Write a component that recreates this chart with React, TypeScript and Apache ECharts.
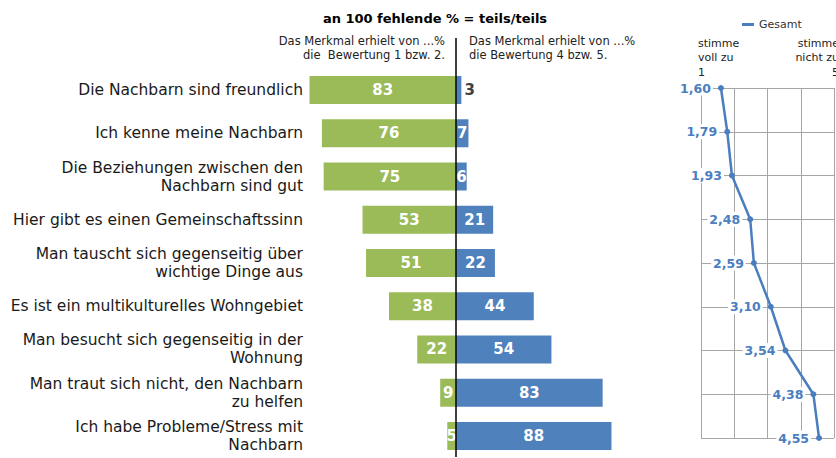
import React, { useEffect, useRef } from "react";
import * as echarts from "echarts";

const categories = [
  "Die Nachbarn sind freundlich",
  "Ich kenne meine Nachbarn",
  "Die Beziehungen zwischen den\nNachbarn sind gut",
  "Hier gibt es einen Gemeinschaftssinn",
  "Man tauscht sich gegenseitig über\nwichtige Dinge aus",
  "Es ist ein multikulturelles Wohngebiet",
  "Man besucht sich gegenseitig in der\nWohnung",
  "Man traut sich nicht, den Nachbarn\nzu helfen",
  "Ich habe Probleme/Stress mit\nNachbarn",
];
const shareRating12 = [83, 76, 75, 53, 51, 38, 22, 9, 5];
const shareRating45 = [3, 7, 6, 21, 22, 44, 54, 83, 88];
const meanScores = [1.6, 1.79, 1.93, 2.48, 2.59, 3.1, 3.54, 4.38, 4.55];
const scaleTicks = [1, 2, 3, 4, 5];

const FONT = "DejaVu Sans";
const GREEN = "#9bbb59";
const BLUE = "#4f81bd";
const LINE_BLUE = "#4a7ebf";

export default function App() {
  const ref = useRef<HTMLDivElement>(null);
  useEffect(() => {
    document.body.style.margin = "0";
    const chart = echarts.init(ref.current!, null, { renderer: "svg" });
    const option: any = {
      animation: false,
      textStyle: { fontFamily: FONT },
      legend: {
        data: [{ name: "Gesamt", icon: "rect" }],
        left: 737,
        top: 14,
        itemWidth: 12,
        itemHeight: 3,
        itemGap: 6,
        textStyle: { fontSize: 11, color: "#333", fontFamily: FONT },
      },
      grid: [
        { left: 306, width: 309, top: 68.4, height: 389.2 },
        { left: 701, width: 133, top: 88, height: 350 },
      ],
      xAxis: [
        { gridIndex: 0, type: "value", min: -85, max: 90, show: false },
        {
          gridIndex: 1,
          type: "value",
          min: scaleTicks[0],
          max: scaleTicks[scaleTicks.length - 1],
          interval: 1,
          axisLine: { show: false },
          axisTick: { show: false },
          axisLabel: { show: false },
          splitLine: { show: true, lineStyle: { color: "#a6a6a6", width: 1 } },
        },
      ],
      yAxis: [
        {
          gridIndex: 0,
          type: "category",
          data: categories,
          inverse: true,
          axisLine: { show: false, onZero: false },
          axisTick: { show: false },
          splitLine: { show: false },
          axisLabel: {
            fontSize: 15.5,
            color: "#1a1a1a",
            margin: 3,
            lineHeight: 18,
            fontFamily: FONT,
          },
        },
        {
          gridIndex: 1,
          type: "category",
          data: categories,
          inverse: true,
          boundaryGap: false,
          axisLine: { show: true, onZero: false, lineStyle: { color: "#a6a6a6", width: 1 } },
          axisTick: { show: false },
          axisLabel: { show: false },
          splitLine: { show: true, lineStyle: { color: "#a6a6a6", width: 1 } },
        },
      ],
      series: [
        {
          type: "bar",
          name: "1 bzw. 2",
          xAxisIndex: 0,
          yAxisIndex: 0,
          data: shareRating12.map((v) => -v),
          barWidth: 28,
          barGap: "-100%",
          itemStyle: { color: GREEN },
          label: {
            show: true,
            position: "inside",
            color: "#fff",
            fontSize: 15,
            fontWeight: "bold",
            fontFamily: FONT,
            formatter: (p: any) => String(Math.abs(p.value)),
          },
        },
        {
          type: "bar",
          name: "4 bzw. 5",
          xAxisIndex: 0,
          yAxisIndex: 0,
          data: shareRating45.map((v, i) =>
            i === 0
              ? { value: v, label: { position: "right", color: "#404040", distance: 3 } }
              : v
          ),
          barWidth: 28,
          barGap: "-100%",
          itemStyle: { color: BLUE },
          label: {
            show: true,
            position: "inside",
            color: "#fff",
            fontSize: 15,
            fontWeight: "bold",
            fontFamily: FONT,
          },
        },
        {
          type: "line",
          name: "Gesamt",
          xAxisIndex: 1,
          yAxisIndex: 1,
          data: meanScores.map((v, i) => [v, categories[i]]),
          color: LINE_BLUE,
          lineStyle: { color: LINE_BLUE, width: 2.5 },
          itemStyle: { color: LINE_BLUE },
          symbol: "circle",
          symbolSize: 6,
          label: {
            show: true,
            position: "left",
            distance: 5,
            color: LINE_BLUE,
            fontSize: 12.5,
            fontWeight: "bold",
            fontFamily: FONT,
            backgroundColor: "#fff",
            padding: [1, 2],
            formatter: (p: any) => p.value[0].toFixed(2).replace(".", ","),
          },
        },
      ],
      graphic: [
        {
          type: "line",
          shape: { x1: 456, y1: 38, x2: 456, y2: 457 },
          style: { stroke: "#000", lineWidth: 1.5 },
          z: 10,
        },
        {
          type: "text",
          x: 435,
          y: 18,
          style: {
            text: "an 100 fehlende % = teils/teils",
            fontSize: 13,
            fontWeight: "bold",
            fontFamily: FONT,
            fill: "#000",
            align: "center",
            verticalAlign: "middle",
          },
        },
        {
          type: "text",
          x: 445,
          y: 48,
          style: {
            text: "Das Merkmal erhielt von ...%\ndie  Bewertung 1 bzw. 2.",
            fontSize: 11.5,
            lineHeight: 14,
            fontFamily: FONT,
            fill: "#222",
            align: "right",
            verticalAlign: "middle",
          },
        },
        {
          type: "text",
          x: 469,
          y: 48,
          style: {
            text: "Das Merkmal erhielt von ...%\ndie Bewertung 4 bzw. 5.",
            fontSize: 11.5,
            lineHeight: 14,
            fontFamily: FONT,
            fill: "#222",
            align: "left",
            verticalAlign: "middle",
          },
        },
        {
          type: "text",
          x: 698,
          y: 57.5,
          style: {
            text: "stimme\nvoll zu\n1",
            fontSize: 11,
            lineHeight: 14.5,
            fontFamily: FONT,
            fill: "#222",
            align: "left",
            verticalAlign: "middle",
          },
        },
        {
          type: "text",
          x: 839,
          y: 57.5,
          style: {
            text: "stimme\nnicht zu\n5",
            fontSize: 11,
            lineHeight: 14.5,
            fontFamily: FONT,
            fill: "#222",
            align: "right",
            verticalAlign: "middle",
          },
        },
      ],
    };
    chart.setOption(option);
    return () => chart.dispose();
  }, []);
  return <div ref={ref} style={{ width: 836, height: 458 }} />;
}
